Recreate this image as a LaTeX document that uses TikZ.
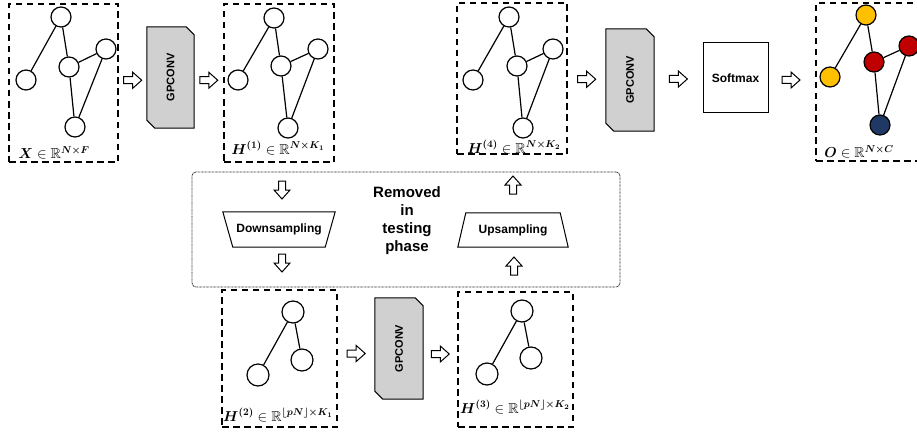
\documentclass[tikz,border=0pt]{standalone}
\usepackage{amsmath,amssymb}
\usepackage{fontspec}
\setsansfont{Liberation Sans}
\usetikzlibrary{calc,backgrounds}
\definecolor{oyellow}{HTML}{FFC000}
\definecolor{ored}{HTML}{C00000}
\definecolor{onavy}{HTML}{203864}
\definecolor{gpgray}{HTML}{D0D0D0}
\begin{document}
\begin{tikzpicture}[x=1pt,y=-1pt,
 framebox/.style={draw, dash pattern=on 6.5pt off 4.5pt, line width=1.3pt, rectangle, inner sep=0},
 gn/.style={circle, draw, line width=1.2pt, minimum size=20pt, inner sep=0, fill=white},
 ge/.style={line width=1.2pt},
 lbl/.style={font=\Large, inner sep=0},
 gp/.style={rectangle, inner sep=0, font=\sffamily\bfseries\fontsize{11}{13}\selectfont},
 gpshape/.style={draw, line width=1pt, fill=gpgray},
 sf/.style={font=\sffamily\bfseries\fontsize{12}{14}\selectfont},
 pics/harrow/.style={code={\draw[line width=1pt, fill=white, line join=miter]
   (-9pt,-3.5pt) -- (0pt,-3.5pt) -- (0pt,-8pt) -- (9pt,0pt) -- (0pt,8pt) -- (0pt,3.5pt) -- (-9pt,3.5pt) -- cycle;}}
]
\useasboundingbox (0,0) rectangle (917,433);
\clip (0,0) rectangle (917,433);

% frames
\node[framebox, minimum width=109pt, minimum height=158pt] (B1) at (63.5,83) {};
\node[framebox, minimum width=110pt, minimum height=158pt] (B2) at (279,83) {};
\node[framebox, minimum width=110pt, minimum height=151pt] (B4) at (512,78.5) {};
\node[framebox, minimum width=140pt, minimum height=158pt] (BO) at (886,82) {};
\node[framebox, minimum width=115pt, minimum height=137pt] (BH2) at (279.5,358.5) {};
\node[framebox, minimum width=115pt, minimum height=135pt] (BH3) at (515.5,359.5) {};

% graph 1
\node[gn] (a1) at (61,17) {};
\node[gn] (a2) at (26,80) {};
\node[gn] (a3) at (69,67) {};
\node[gn] (a4) at (106,49) {};
\node[gn] (a5) at (75,127) {};
\draw[ge] (a1)--(a2) (a1)--(a3) (a3)--(a4) (a3)--(a5) (a4)--(a5);
% graph 2
\node[gn] (b1) at (274,18) {};
\node[gn] (b2) at (238,80) {};
\node[gn] (b3) at (281,66) {};
\node[gn] (b4) at (318,49) {};
\node[gn] (b5) at (288,128) {};
\draw[ge] (b1)--(b2) (b1)--(b3) (b3)--(b4) (b3)--(b5) (b4)--(b5);
% graph 4
\node[gn] (c1) at (509,17) {};
\node[gn] (c2) at (473,80) {};
\node[gn] (c3) at (517,66) {};
\node[gn] (c4) at (553,49) {};
\node[gn] (c5) at (523,128) {};
\draw[ge] (c1)--(c2) (c1)--(c3) (c3)--(c4) (c3)--(c5) (c4)--(c5);
% output graph
\node[gn, fill=oyellow] (o1) at (866,15) {};
\node[gn, fill=oyellow] (o2) at (830,77) {};
\node[gn, fill=ored] (o3) at (874,62) {};
\node[gn, fill=ored] (o4) at (909,46) {};
\node[gn, fill=onavy] (o5) at (880,125) {};
\draw[ge] (o1)--(o2) (o1)--(o3) (o3)--(o4) (o3)--(o5) (o4)--(o5);
% graph H2
\node[gn, minimum size=22pt] (d1) at (293,312) {};
\node[gn, minimum size=22pt] (d2) at (302,360) {};
\node[gn, minimum size=22pt] (d3) at (258,375) {};
\draw[ge] (d1)--(d2) (d1)--(d3);
% graph H3
\node[gn, minimum size=22pt] (e1) at (522,311) {};
\node[gn, minimum size=22pt] (e2) at (531,358) {};
\node[gn, minimum size=22pt] (e3) at (487,374) {};
\draw[ge] (e1)--(e2) (e1)--(e3);

% labels
\node[lbl] (lX) at (54,153) {$\boldsymbol{X}\in\mathbb{R}^{\boldsymbol{N\times F}}$};
\node[lbl] (lH1) at (278,148) {$\boldsymbol{H^{(1)}}\in\mathbb{R}^{\boldsymbol{N\times K_1}}$};
\node[lbl] (lH4) at (514,147) {$\boldsymbol{H^{(4)}}\in\mathbb{R}^{\boldsymbol{N\times K_2}}$};
\node[lbl] (lO) at (859,152) {$\boldsymbol{O}\in\mathbb{R}^{\boldsymbol{N\times C}}$};
\node[lbl] (lH2) at (278,415) {$\boldsymbol{H^{(2)}}\in\mathbb{R}^{\boldsymbol{\lfloor pN\rfloor\times K_1}}$};
\node[lbl] (lH3) at (515,407) {$\boldsymbol{H^{(3)}}\in\mathbb{R}^{\boldsymbol{\lfloor pN\rfloor\times K_2}}$};

% GPCONV blocks
\node[gp, minimum width=47pt, minimum height=101pt] (g1) at (170.5,77.5) {\rotatebox{90}{GPCONV}};
\node[gp, minimum width=48pt, minimum height=102pt] (g2) at (630,80) {\rotatebox{90}{GPCONV}};
\node[gp, minimum width=48pt, minimum height=101pt] (g3) at (399,348.5) {\rotatebox{90}{GPCONV}};
\begin{scope}[on background layer]
\foreach \g in {g1,g2,g3}{
 \draw[gpshape] (\g.north west) -- ($(\g.north east)+(-8pt,0pt)$) -- ($(\g.north east)+(0pt,-8pt)$)
   -- (\g.south east) -- ($(\g.south west)+(8pt,0pt)$) -- ($(\g.south west)+(0pt,8pt)$) -- cycle;
}
\end{scope}

% softmax
\node[sf, draw, line width=1pt, minimum width=65pt, minimum height=70pt, inner sep=0] (soft) at (735.5,78) {Softmax};

% dotted region
\node[draw, rectangle, rounded corners=4pt, dash pattern=on 0.8pt off 0.6pt, line width=0.8pt, draw=black!85,
  minimum width=428pt, minimum height=115pt, inner sep=0] (rem) at (406,229.5) {};
\node[font=\sffamily\bfseries\fontsize{15}{18}\selectfont, align=center, inner sep=0] (remtxt) at (407,221) {Removed\\in\\testing\\phase};

% down/up sampling
\node[sf, minimum width=112pt, minimum height=35pt, inner sep=0] (down) at (279,229.5) {Downsampling};
\draw[line width=1pt] (down.north west) -- (down.north east) -- ($(down.south east)+(-10pt,0pt)$) -- ($(down.south west)+(10pt,0pt)$) -- cycle;
\node[sf, minimum width=110pt, minimum height=34pt, inner sep=0] (up) at (513,230) {Upsampling};
\draw[line width=1pt] ($(up.north west)+(8pt,0pt)$) -- ($(up.north east)+(-8pt,0pt)$) -- (up.south east) -- (up.south west) -- cycle;

% block arrows
\pic at ($(B1.east)!0.5!(g1.west)$) {harrow};
\pic at ($(g1.east)!0.5!(B2.west)$) {harrow};
\pic at ($(B4.east)!0.5!(g2.west)$) {harrow};
\pic at ($(g2.east)!0.5!(soft.west)$) {harrow};
\pic at (791,80) {harrow};
\pic at ($(BH2.east)!0.5!(g3.west)$) {harrow};
\pic at ($(g3.east)!0.5!(BH3.west)$) {harrow};
\pic[rotate=-90] at (282,190) {harrow};
\pic[rotate=-90] at (282,263) {harrow};
\pic[rotate=90] at (513,185) {harrow};
\pic[rotate=90] at (514,266) {harrow};
\end{tikzpicture}
\end{document}
